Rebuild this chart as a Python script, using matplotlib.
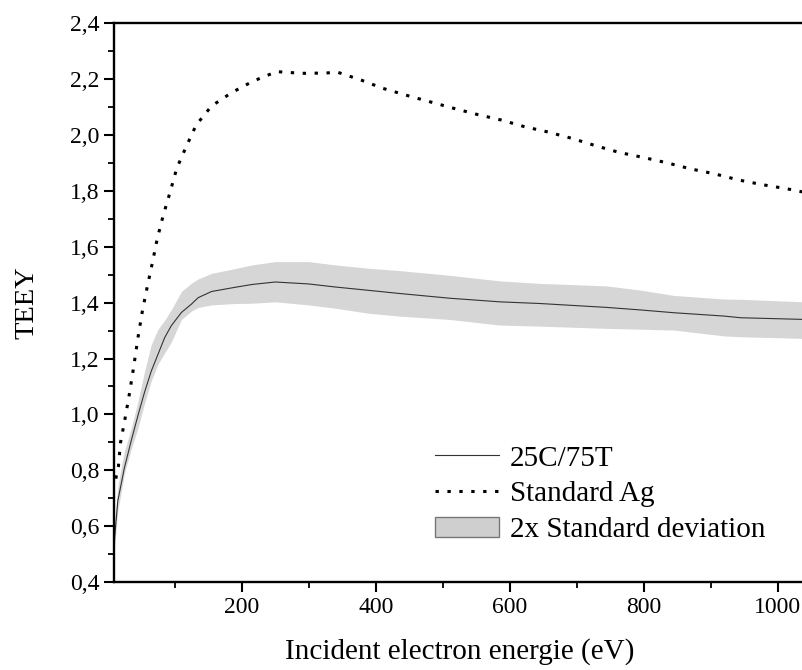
import numpy as np
import matplotlib
matplotlib.use("Agg")
import matplotlib.pyplot as plt
from matplotlib.ticker import MultipleLocator, FuncFormatter
from matplotlib.patches import Patch
from matplotlib.lines import Line2D

# 25C/75T sample: mean TEEY and the 2x standard deviation band
energy = [10, 15, 20, 25, 35, 45, 55, 65, 75, 85, 95, 110, 125, 135, 155, 190,
          215, 250, 300, 340, 390, 435, 510, 585, 645, 745, 795, 845, 920, 945, 1040]
teey_mean = [0.55, 0.69, 0.75, 0.81, 0.905, 0.995, 1.08, 1.155, 1.215, 1.275, 1.318,
             1.365, 1.395, 1.418, 1.440, 1.455, 1.465, 1.474, 1.467, 1.456, 1.444,
             1.433, 1.416, 1.403, 1.397, 1.383, 1.374, 1.364, 1.352, 1.346, 1.340]
band_lo = [0.52, 0.655, 0.72, 0.79, 0.875, 0.95, 1.04, 1.12, 1.18, 1.22, 1.26,
           1.34, 1.37, 1.383, 1.392, 1.397, 1.398, 1.403, 1.392, 1.380, 1.362,
           1.352, 1.340, 1.320, 1.316, 1.308, 1.305, 1.302, 1.281, 1.278, 1.272]
band_hi = [0.60, 0.74, 0.81, 0.87, 0.95, 1.045, 1.155, 1.25, 1.305, 1.337, 1.375,
           1.44, 1.47, 1.485, 1.505, 1.522, 1.535, 1.547, 1.547, 1.535, 1.523,
           1.515, 1.498, 1.478, 1.469, 1.460, 1.445, 1.426, 1.413, 1.412, 1.403]

# Standard Ag reference
ag_energy = [12, 16, 19, 26, 32, 38, 46, 52, 59, 67, 74, 83, 93, 103, 117, 132, 155,
             185, 217, 252, 290, 325, 343, 378, 411, 445, 481, 516, 551, 587, 622,
             657, 693, 728, 763, 799, 834, 870, 906, 942, 978, 1013, 1040]
ag_teey = [0.77, 0.815, 0.898, 0.987, 1.069, 1.159, 1.288, 1.374, 1.457, 1.547, 1.63,
           1.714, 1.795, 1.881, 1.958, 2.036, 2.104, 2.152, 2.193, 2.227, 2.221, 2.222,
           2.225, 2.197, 2.167, 2.143, 2.119, 2.096, 2.074, 2.054, 2.030, 2.011, 1.988,
           1.962, 1.938, 1.920, 1.901, 1.879, 1.861, 1.839, 1.822, 1.808, 1.795]

plt.rcParams['font.family'] = ['Liberation Serif', 'DejaVu Serif']

fig = plt.figure(figsize=(8.03, 6.70), dpi=100)
ax = fig.add_axes([0.1425, 0.1313, 0.8594, 0.8339])

ax.fill_between(energy, band_lo, band_hi, color='#d6d6d6', lw=0)
ax.plot(energy, teey_mean, color='#333333', lw=0.8)
ax.plot(ag_energy, ag_teey, color='black', lw=2.2, linestyle=(0, (1.1, 2.8)))

ax.set_xlim(10, 1040)
ax.set_ylim(0.4, 2.4)
ax.xaxis.set_major_locator(MultipleLocator(200))
ax.xaxis.set_minor_locator(MultipleLocator(100))
ax.yaxis.set_major_locator(MultipleLocator(0.2))
ax.yaxis.set_minor_locator(MultipleLocator(0.1))
ax.yaxis.set_major_formatter(FuncFormatter(lambda v, p: f"{v:.1f}".replace('.', ',')))

ax.spines['right'].set_visible(False)
for s in ['left', 'bottom', 'top']:
    ax.spines[s].set_linewidth(1.7)
ax.tick_params(which='major', direction='out', length=7, width=1.5, labelsize=17, pad=4)
ax.tick_params(which='minor', direction='out', length=4, width=1.3)

ax.set_xlabel('Incident electron energie (eV)', fontsize=21, labelpad=14)
ax.set_ylabel('TEEY', fontsize=20.5, labelpad=22)

handles = [Line2D([], [], color='#333333', lw=0.8),
           Line2D([], [], color='black', lw=2.2, linestyle=(0, (1.1, 2.8))),
           Patch(facecolor='#cfcfcf', edgecolor='#777777', lw=1.0)]
ax.legend(handles, ['25C/75T', 'Standard Ag', '2x Standard deviation'],
          loc='upper left', bbox_to_anchor=(0.465, 0.245), frameon=False,
          fontsize=21, handlelength=2.2, handletextpad=0.35, labelspacing=0.32,
          borderpad=0, borderaxespad=0)

fig.savefig('out.png', dpi=100)
